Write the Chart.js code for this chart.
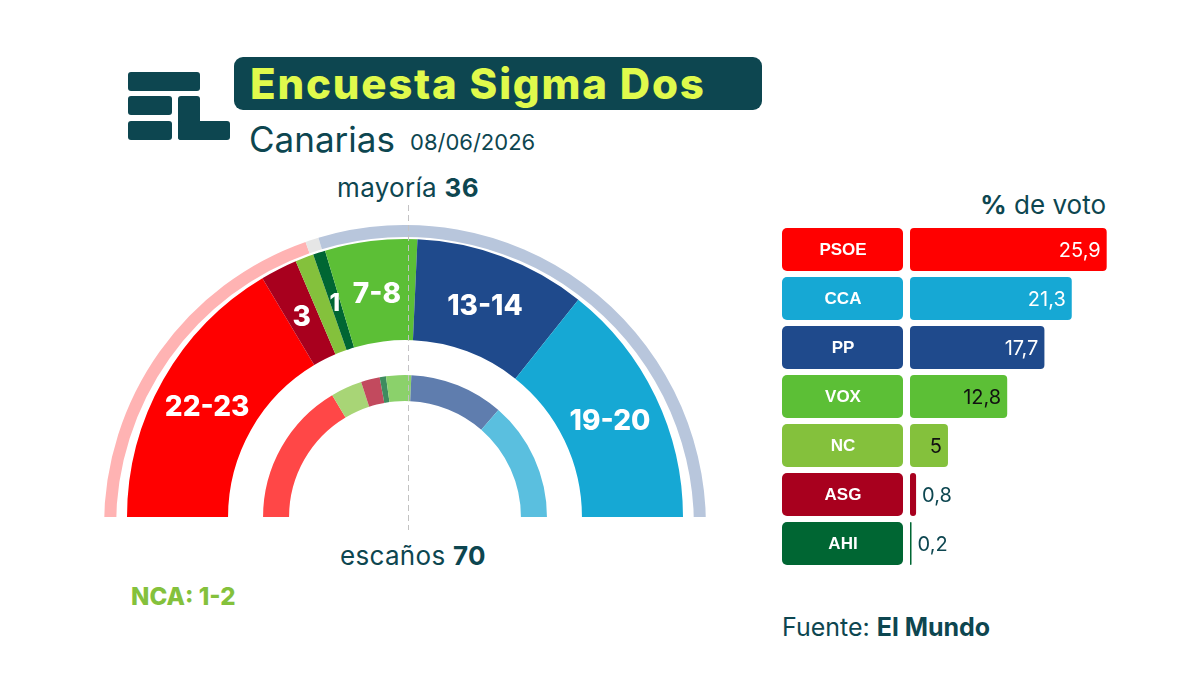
<!DOCTYPE html>
<html>
<head>
<meta charset="utf-8">
<script src="https://cdn.jsdelivr.net/npm/chart.js@4.4.1/dist/chart.umd.min.js"></script>
<style>
  html, body { margin: 0; padding: 0; background: #fff; }
  #stage { position: relative; width: 1200px; height: 675px; overflow: hidden; font-family: Inter, "Noto Sans", sans-serif; color: #0d4650; }
  .abs { position: absolute; }
  .logo div { position: absolute; background: #0d4650; border-radius: 3px; }
  #titleBox { left: 234px; top: 57px; width: 528px; height: 53px; background: #0d4650; border-radius: 9px; }
  #titleBox span { position: absolute; left: 16px; top: 0; line-height: 53px; font-size: 42px; font-weight: 800; color: #e0fa4c; letter-spacing: 1.8px; white-space: nowrap; }
  .txt { position: absolute; white-space: nowrap; line-height: 1; }
  #dash { left: 407.5px; top: 205px; width: 1.5px; height: 325px; background: repeating-linear-gradient(to bottom, #c2c2c2 0 6px, transparent 6px 10px); pointer-events: none; }
  #outerWrap { left: 104px; top: 225px; width: 602px; height: 292px; overflow: hidden; }
</style>
</head>
<body>
<div id="stage">
  <div class="abs logo" style="left:0;top:0;">
    <div style="left:128px;top:72px;width:72px;height:19px;"></div>
    <div style="left:128px;top:96px;width:44px;height:19px;"></div>
    <div style="left:128px;top:121px;width:44px;height:19px;"></div>
    <div style="left:178px;top:96px;width:22px;height:44px;"></div>
    <div style="left:178px;top:121px;width:52px;height:19px;"></div>
  </div>
  <div id="titleBox" class="abs"><span>Encuesta Sigma Dos</span></div>
  <div class="txt" style="left:249px;top:122px;font-size:35px;">Canarias</div>
  <div class="txt" style="left:410px;top:131px;font-size:22px;">08/06/2026</div>

  <div class="txt" style="left:408px;top:175px;font-size:26px;letter-spacing:0.3px;transform:translateX(-50%);">mayoría <b>36</b></div>
  <div class="txt" style="left:413px;top:543px;font-size:26px;letter-spacing:0.3px;transform:translateX(-50%);">escaños <b>70</b></div>
  <div class="txt" style="left:131px;top:585px;font-size:24px;font-weight:800;color:#84c13c;">NCA: 1-2</div>

  <div class="txt" style="right:94px;top:192px;font-size:26px;"><b>%</b> de voto</div>
  <div class="txt" style="left:782px;top:615px;font-size:25px;">Fuente: <b>El Mundo</b></div>

  <div id="outerWrap" class="abs"><canvas id="outerRing" width="602" height="301" style="width:602px;height:301px;"></canvas></div>
  <div class="abs" style="left:127px;top:239px;width:556px;height:278px;"><canvas id="seatChart"></canvas></div>
  <div class="abs" style="left:782px;top:225px;width:330px;height:343px;"><canvas id="voteChart"></canvas></div>
  <div id="dash" class="abs"></div>
</div>

<script>
// Escaños estimados (anillo principal)
const seatParties = ['PSOE', 'ASG', 'NC', 'AHI', 'VOX', 'PP', 'CCA'];
const seatValues = [23, 3, 1.5, 1, 7.5, 14, 20];
const seatLabels = ['22-23', '3', '', '1', '7-8', '13-14', '19-20'];

// Escaños anteriores (anillo interior)
const prevParties = ['PSOE', 'NC', 'ASG', 'AHI', 'VOX', 'PP', 'CCA'];
const prevSeats = [23, 5, 3, 1, 4, 15, 19];

// Bloques (anillo exterior)
const blocNames = ['izquierda', 'AHI', 'derecha'];
const blocSeats = [27.5, 1, 41.5];

// % de voto
const voteParties = ['PSOE', 'CCA', 'PP', 'VOX', 'NC', 'ASG', 'AHI'];
const votePct = [25.9, 21.3, 17.7, 12.8, 5, 0.8, 0.2];

const partyColor = {
    PSOE: '#ff0000', ASG: '#a8001e', NC: '#84c13c', AHI: '#006633',
    VOX: '#5cbf36', PP: '#1f4a8c', CCA: '#16a8d4'
};
const prevColor = {
    PSOE: '#ff4747', NC: '#a8d576', ASG: '#c24a5e', AHI: '#3e8c5f',
    VOX: '#8bd16b', PP: '#5f7dae', CCA: '#5abfdf'
};
const blocColors = ['#ffb3b3', '#e6e6e6', '#b8c6dc'];
const darkTeal = '#0d4650';
const fmt = v => String(v).replace('.', ',');

Chart.defaults.font.family = 'Inter, "Noto Sans", sans-serif';
Chart.defaults.animation = false;

// labels inside the main ring
const ringLabels = {
    id: 'ringLabels',
    afterDatasetsDraw(chart) {
        const ctx = chart.ctx;
        const meta = chart.getDatasetMeta(0);
        ctx.save();
        ctx.fillStyle = '#fff';
        ctx.textAlign = 'center';
        ctx.textBaseline = 'middle';
        meta.data.forEach((arc, i) => {
            if (!seatLabels[i]) return;
            const p = arc.tooltipPosition();
            ctx.font = (seatValues[i] <= 1 ? '800 24px ' : '800 28px ') + 'Inter';
            ctx.fillText(seatLabels[i], p.x, p.y + 3);
        });
        ctx.restore();
    }
};

new Chart(document.getElementById('outerRing'), {
    type: 'doughnut',
    data: {
        labels: blocNames,
        datasets: [{ data: blocSeats, backgroundColor: blocColors, borderWidth: 0 }]
    },
    options: {
        responsive: false,
        events: [],
        rotation: -90,
        circumference: 180,
        radius: 301,
        cutout: '96%',
        plugins: { legend: { display: false }, tooltip: { enabled: false } }
    }
});

new Chart(document.getElementById('seatChart'), {
    type: 'doughnut',
    data: {
        labels: seatParties,
        datasets: [
            { data: seatValues, backgroundColor: seatParties.map(p => partyColor[p]), borderWidth: 0, weight: 101 },
            { data: [1], backgroundColor: 'rgba(0,0,0,0)', borderWidth: 0, weight: 35 },
            { data: prevSeats, backgroundColor: prevParties.map(p => prevColor[p]), borderWidth: 0, weight: 26 }
        ]
    },
    options: {
        responsive: true,
        maintainAspectRatio: false,
        events: [],
        rotation: -90,
        circumference: 180,
        radius: 278,
        cutout: '41.7%',
        plugins: { legend: { display: false }, tooltip: { enabled: false } }
    },
    plugins: [ringLabels]
});

// party boxes + value labels for the vote bars
const voteDecor = {
    id: 'voteDecor',
    afterDatasetsDraw(chart) {
        const ctx = chart.ctx;
        const meta = chart.getDatasetMeta(0);
        ctx.save();
        meta.data.forEach((bar, i) => {
            const h = bar.height;
            const top = bar.y - h / 2;
            ctx.fillStyle = partyColor[voteParties[i]];
            ctx.beginPath();
            ctx.roundRect(0, top, 121, h, 5);
            ctx.fill();
            ctx.fillStyle = '#fff';
            ctx.font = 'bold 17px "Liberation Sans", Arial, sans-serif';
            ctx.textAlign = 'center';
            ctx.textBaseline = 'middle';
            ctx.fillText(voteParties[i], 61, bar.y + 1);

            ctx.font = '400 20px Inter';
            const v = votePct[i];
            if (v >= 2) {
                ctx.textAlign = 'right';
                ctx.fillStyle = (voteParties[i] === 'VOX' || voteParties[i] === 'NC') ? '#111' : '#fff';
                ctx.fillText(fmt(v), bar.x - 6, bar.y + 1);
            } else {
                ctx.textAlign = 'left';
                ctx.fillStyle = darkTeal;
                ctx.fillText(fmt(v), bar.x + 6, bar.y + 1);
            }
        });
        ctx.restore();
    }
};

new Chart(document.getElementById('voteChart'), {
    type: 'bar',
    data: {
        labels: voteParties,
        datasets: [{
            data: votePct,
            backgroundColor: voteParties.map(p => partyColor[p]),
            borderRadius: 4,
            borderSkipped: false,
            categoryPercentage: 1,
            barPercentage: 0.88
        }]
    },
    options: {
        indexAxis: 'y',
        responsive: true,
        maintainAspectRatio: false,
        events: [],
        layout: { padding: { left: 128, right: 0, top: 0, bottom: 0 } },
        scales: {
            x: { display: false, min: 0, max: 26.6 },
            y: { display: false }
        },
        plugins: { legend: { display: false }, tooltip: { enabled: false } }
    },
    plugins: [voteDecor]
});
</script>
</body>
</html>
